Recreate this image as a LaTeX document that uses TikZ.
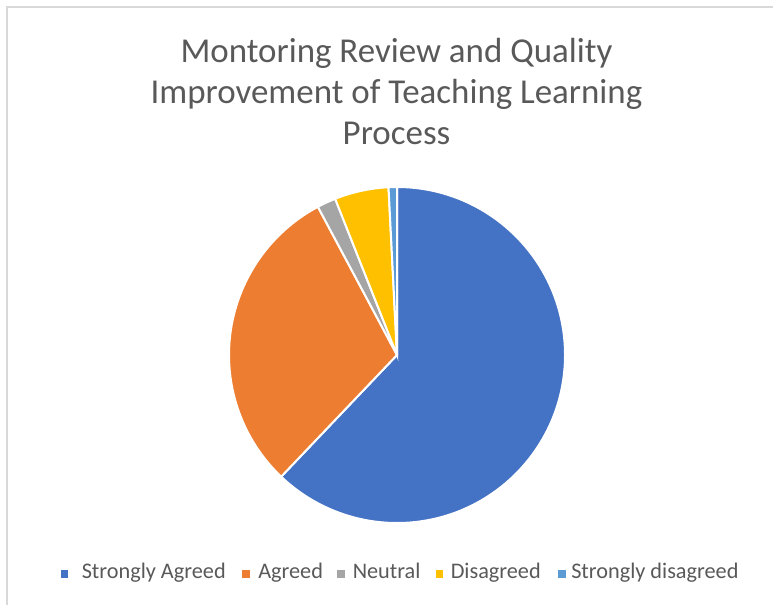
\documentclass[tikz,border=0pt]{standalone}
\usepackage{fontspec}
\setmainfont{Carlito}

\definecolor{cBlue}{HTML}{4472C4}
\definecolor{cOrange}{HTML}{ED7D31}
\definecolor{cGray}{HTML}{A5A5A5}
\definecolor{cYellow}{HTML}{FFC000}
\definecolor{cLightBlue}{HTML}{5B9BD5}
\definecolor{cText}{HTML}{595959}
\definecolor{cFrame}{HTML}{D9D9D9}

\begin{document}
\begin{tikzpicture}[x=0.75pt, y=0.75pt,
    slice/.style={draw=white, line width=1.5pt},
    keybox/.style={minimum size=5.6pt, inner sep=0pt},
    keytext/.style={anchor=west, inner sep=0pt, text=cText, text height=0.9em, text depth=0.21em,
      font=\fontsize{16.7}{20}\selectfont}]
    \useasboundingbox (0,0) rectangle (773,604);
    % chart frame
    \draw[cFrame, line width=1.2pt] (7,-20) -- (7,597) -- (800,597);

    % title
    \node[align=center, text=cText, inner sep=0pt,
      font=\fontsize{26.2}{30.75}\selectfont] (title) at (396.5,512.5)
      {Montoring Review and Quality\\Improvement of Teaching Learning\\Process};

    % pie
    \begin{scope}[shift={(397,249)}]
      \filldraw[slice, fill=cBlue] (0,0) -- (90:168) arc[start angle=90, end angle=-133.6, radius=168] -- cycle;
      \filldraw[slice, fill=cOrange] (0,0) -- (-133.6:168) arc[start angle=-133.6, end angle=-241.9, radius=168] -- cycle;
      \filldraw[slice, fill=cGray] (0,0) -- (-241.9:168) arc[start angle=-241.9, end angle=-248.4, radius=168] -- cycle;
      \filldraw[slice, fill=cYellow] (0,0) -- (-248.4:168) arc[start angle=-248.4, end angle=-267.1, radius=168] -- cycle;
      \filldraw[slice, fill=cLightBlue] (0,0) -- (-267.1:168) arc[start angle=-267.1, end angle=-270, radius=168] -- cycle;
    \end{scope}

    % legend
    \node[keybox, fill=cBlue] (k1) at (64.7,29.8) {};
    \node[keytext] (t1) at (81.5,29.8) {Strongly Agreed};
    \node[keybox, fill=cOrange] (k2) at (246.2,29.8) {};
    \node[keytext] (t2) at (258,29.8) {Agreed};
    \node[keybox, fill=cGray] (k3) at (341,29.8) {};
    \node[keytext] (t3) at (352.5,29.8) {Neutral};
    \node[keybox, fill=cYellow] (k4) at (439.7,29.8) {};
    \node[keytext] (t4) at (450.5,29.8) {Disagreed};
    \node[keybox, fill=cLightBlue] (k5) at (562,29.8) {};
    \node[keytext] (t5) at (571,29.8) {Strongly disagreed};
  \end{tikzpicture}
\end{document}
